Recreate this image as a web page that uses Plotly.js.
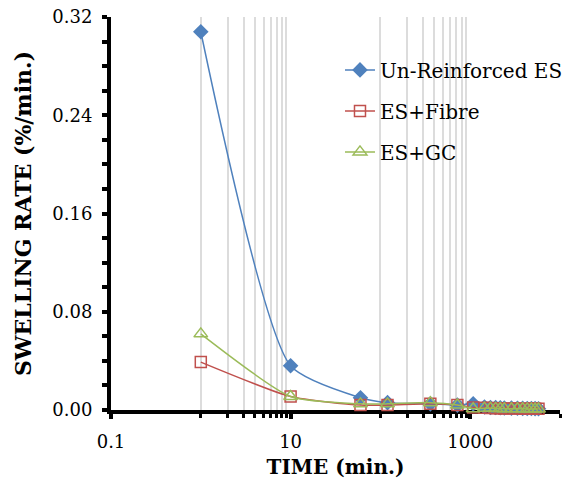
<!DOCTYPE html>
<html>
<head>
<meta charset="utf-8">
<script src="https://cdn.plot.ly/plotly-3.0.1.min.js"></script>
<style>html,body{margin:0;padding:0;background:#fff;}#chart{width:580px;height:491px;}</style>
</head>
<body>
<div id="chart"></div>
<script>
// Data (time in minutes, swelling rate in %/min.)
var timeMin = [1, 10, 60, 120, 360, 720, 1080, 1440, 1680, 1920, 2160, 2400, 2880, 3360, 3840, 4320, 4800, 5280, 5760];
var unReinforced = [0.308, 0.036, 0.010, 0.006, 0.005, 0.004, 0.005, 0.0025, 0.002, 0.002, 0.0018, 0.0016, 0.0015, 0.0014, 0.0013, 0.0012, 0.0012, 0.0011, 0.001];
var esFibre = [0.039, 0.011, 0.004, 0.004, 0.005, 0.004, 0.002, 0.0018, 0.0016, 0.0015, 0.0014, 0.0013, 0.0012, 0.0012, 0.0011, 0.001, 0.001, 0.001, 0.001];
var esGC = [0.062, 0.011, 0.005, 0.005, 0.006, 0.004, 0.001, 0.0015, 0.0014, 0.0013, 0.0012, 0.0011, 0.001, 0.001, 0.001, 0.0009, 0.0009, 0.0008, 0.0008];
var seriesNames = ["Un-Reinforced ES", "ES+Fibre", "ES+GC"];
var xTickVals = [0.1, 10, 1000];
var xTickText = ["0.1", "10", "1000"];
var xMinorVals = [1,2,3,4,5,6,7,8,9,100,200,300,400,500,600,700,800,900,10000];

var serif = "DejaVu Serif";
var traces = [
  {x: timeMin, y: unReinforced, name: seriesNames[0], legendgroup: "a", type: "scatter", mode: "lines+markers",
   line: {color: "#4F81BD", width: 1.5, shape: "spline", smoothing: 0.6},
   marker: {symbol: "diamond", size: 12, color: "#4F81BD"}, cliponaxis: false},
  {x: timeMin, y: esFibre, name: seriesNames[1], legendgroup: "b", type: "scatter", mode: "lines+markers",
   line: {color: "#C0504D", width: 1.5, shape: "spline", smoothing: 0.6},
   marker: {symbol: "square-open", size: 11, color: "#C0504D", line: {width: 1.5}}, cliponaxis: false},
  {x: timeMin, y: esGC, name: seriesNames[2], legendgroup: "c", type: "scatter", mode: "lines+markers",
   line: {color: "#9BBB59", width: 1.5, shape: "spline", smoothing: 0.6},
   marker: {symbol: "triangle-up-open", size: 12, color: "#9BBB59", line: {width: 1.5}}, cliponaxis: false}
];

var layout = {
  width: 580, height: 491,
  margin: {l: 111, r: 17, t: 17, b: 81},
  paper_bgcolor: "#fff", plot_bgcolor: "#fff",
  font: {family: serif, color: "#000", size: 18},
  showlegend: true,
  legend: {x: 0.51, y: 0.915, xanchor: "left", yanchor: "top", bgcolor: "rgba(0,0,0,0)",
           font: {family: serif, size: 20, color: "#000"}, traceorder: "grouped", tracegroupgap: 12},
  xaxis: {
    type: "log", range: [-1, 4],
    tickmode: "array", tickvals: xTickVals, ticktext: xTickText,
    showgrid: false, zeroline: false,
    showline: true, linecolor: "#000", linewidth: 4,
    ticks: "outside", ticklen: 5, tickwidth: 4, tickcolor: "#000",
    ticklabelstandoff: 7,
    minor: {tickmode: "array", tickvals: xMinorVals, showgrid: true, gridcolor: "#DCDCDC", gridwidth: 2,
            ticks: "outside", ticklen: 4, tickwidth: 3, tickcolor: "#000"},
    tickfont: {family: serif, size: 18},
    title: {text: "<b>TIME (min.)</b>", font: {family: serif, size: 20}, standoff: 10},
    layer: "below traces"
  },
  yaxis: {
    range: [0, 0.32], tickmode: "linear", tick0: 0, dtick: 0.08, tickformat: ".2f",
    showgrid: false, zeroline: false,
    showline: true, linecolor: "#000", linewidth: 4,
    ticks: "outside", ticklen: 5, tickwidth: 4, tickcolor: "#000",
    ticklabelstandoff: 6,
    minor: {dtick: 0.02, ticks: "outside", ticklen: 5, tickwidth: 4, tickcolor: "#000", showgrid: false},
    tickfont: {family: serif, size: 18},
    title: {text: "<b>SWELLING RATE (%/min.)</b>", font: {family: serif, size: 22}, standoff: 16},
    layer: "below traces"
  }
};

Plotly.newPlot("chart", traces, layout, {staticPlot: true, displayModeBar: false});
</script>
</body>
</html>
